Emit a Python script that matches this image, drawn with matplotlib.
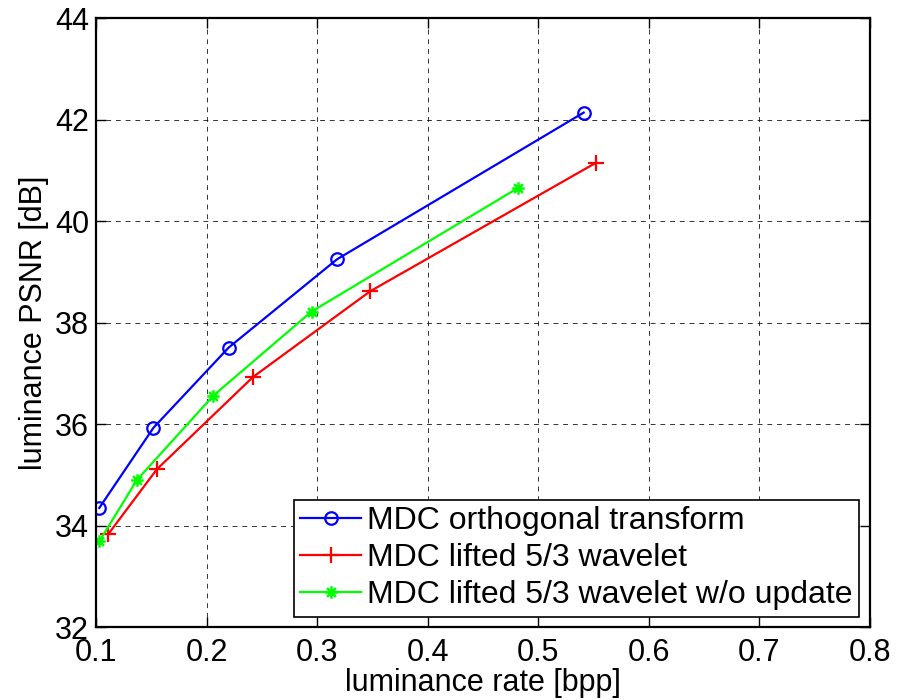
import matplotlib
matplotlib.use("Agg")
import matplotlib.pyplot as plt
from matplotlib.path import Path

plt.rcParams['font.family'] = ['Liberation Sans', 'DejaVu Sans']

# rate [bpp] / PSNR [dB]
rate_orth = [0.103, 0.152, 0.220, 0.318, 0.541]
psnr_orth = [34.35, 35.93, 37.51, 39.25, 42.14]

rate_lift = [0.111, 0.155, 0.242, 0.348, 0.552]
psnr_lift = [33.83, 35.11, 36.93, 38.62, 41.15]

rate_noupd = [0.103, 0.137, 0.206, 0.295, 0.482]
psnr_noupd = [33.69, 34.90, 36.56, 38.22, 40.66]

labels = ['MDC orthogonal transform',
          'MDC lifted 5/3 wavelet',
          'MDC lifted 5/3 wavelet w/o update']

xticks = [0.1, 0.2, 0.3, 0.4, 0.5, 0.6, 0.7, 0.8]
yticks = [32, 34, 36, 38, 40, 42, 44]

# matlab style asterisk: a plus and a cross on top of each other
d = 0.7071
asterisk = Path([(-1, 0), (1, 0), (0, -1), (0, 1),
                 (-d, -d), (d, d), (-d, d), (d, -d)],
                [Path.MOVETO, Path.LINETO] * 4)

fig = plt.figure(figsize=(9.07, 7.0), dpi=100)
ax = fig.add_axes([0.1058, 0.104, 0.8535, 0.870])

ax.plot(rate_orth, psnr_orth, color='#0000ff', lw=1.6, marker='o', ms=9,
        mfc='none', mew=1.6, label=labels[0])
ax.plot(rate_lift, psnr_lift, color='#ff0000', lw=1.6, marker='+', ms=11,
        mew=1.6, label=labels[1])
ax.plot(rate_noupd, psnr_noupd, color='#00ff00', lw=1.6, marker=asterisk,
        ms=9, mew=1.8, label=labels[2])

ax.set_xlim(0.1, 0.8)
ax.set_ylim(32, 44)
ax.set_xticks(xticks)
ax.set_yticks(yticks)
ax.set_xticklabels([f'{t:g}' for t in xticks])
ax.set_yticklabels([str(t) for t in yticks])

ax.grid(True, color='k', linestyle=(0, (5, 5)), linewidth=0.7, alpha=0.8)
ax.tick_params(direction='in', top=True, right=True, length=7, width=1,
               labelsize=22, pad=5)
ax.tick_params(axis='x', pad=8)
for s in ax.spines.values():
    s.set_linewidth(1.6)

ax.set_xlabel('luminance rate [bpp]', fontsize=22, labelpad=0)
ax.set_ylabel('luminance PSNR [dB]', fontsize=22, labelpad=4)

leg = ax.legend(loc='lower right', bbox_to_anchor=(0.986, 0.017), fontsize=23,
                frameon=True, fancybox=False, edgecolor='k', framealpha=1,
                borderpad=0.2, labelspacing=0.22, handlelength=1.9,
                handletextpad=0.2, borderaxespad=0)
leg.get_frame().set_linewidth(1.2)

fig.savefig('out.png', dpi=100)
